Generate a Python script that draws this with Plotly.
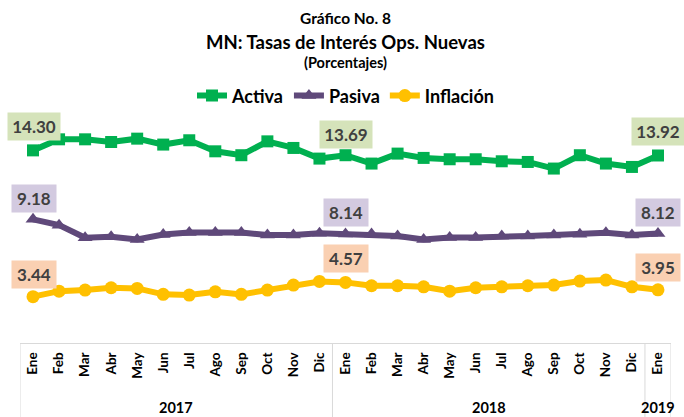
import plotly.graph_objects as go

# ---- data ----
months = ["Ene", "Feb", "Mar", "Abr", "May", "Jun", "Jul", "Ago", "Sep", "Oct", "Nov", "Dic",
          "Ene", "Feb", "Mar", "Abr", "May", "Jun", "Jul", "Ago", "Sep", "Oct", "Nov", "Dic",
          "Ene"]
years = ["2017"] * 12 + ["2018"] * 12 + ["2019"]

activa = [14.30, 15.12, 15.12, 14.92, 15.17, 14.73, 15.05, 14.23, 13.94, 14.97, 14.48, 13.69,
          13.94, 13.32, 14.06, 13.74, 13.64, 13.64, 13.49, 13.44, 12.95, 13.94, 13.32, 13.07,
          13.92]
pasiva = [9.18, 8.75, 7.81, 7.88, 7.69, 8.06, 8.21, 8.21, 8.21, 8.01, 8.01, 8.14,
          8.10, 8.10, 7.95, 7.69, 7.84, 7.84, 7.95, 7.95, 8.01, 8.08, 8.18, 8.01,
          8.12]
inflacion = [3.44, 3.85, 3.93, 4.10, 4.05, 3.61, 3.56, 3.80, 3.61, 3.93, 4.30, 4.57,
             4.50, 4.25, 4.25, 4.17, 3.85, 4.10, 4.17, 4.25, 4.30, 4.60, 4.67, 4.17,
             3.95]
labeled_idx = [0, 11, 24]

series = [
    ("Activa", activa, "#00B050", "square", 12, "#D5E3BA", 24),
    ("Pasiva", pasiva, "#5F497A", "triangle-up", 13, "#D3CAE0", 21),
    ("Inflación", inflacion, "#FFC000", "circle", 13, "#FAD0B2", 22.5),
]

FONT = "Lato"
idx = list(range(len(months)))
fig = go.Figure()
for name, vals, color, sym, msize, _, _ in series:
    fig.add_trace(go.Scatter(
        x=idx, y=vals, name=name, mode="lines+markers",
        line=dict(color=color, width=6),
        marker=dict(symbol=sym, size=msize, color=color),
        customdata=[f"{m} {y}" for m, y in zip(months, years)],
        hovertemplate="%{customdata}: %{y:.2f}<extra>" + name + "</extra>",
    ))

annotations = []
for name, vals, color, sym, msize, bg, yshift in series:
    for i in labeled_idx:
        annotations.append(dict(
            x=i, y=vals[i], xref="x", yref="y",
            text=f"{vals[i]:.2f}", showarrow=False,
            xshift=27 if i == 11 else (1 if i == 0 else 0), yshift=yshift,
            bgcolor=bg, width=50 if vals[i] >= 10 else 42, height=25,
            font=dict(family=FONT, size=17, color="#404040", weight="bold"),
        ))

titles = [("Gráfico No. 8", 1.419, 15.5), ("MN: Tasas de Interés Ops. Nuevas", 1.314, 18.5),
          ("(Porcentajes)", 1.227, 14.5)]
for t, yy, sz in titles:
    annotations.append(dict(text=t, x=0.5, y=yy, xref="paper", yref="paper",
                            showarrow=False, xanchor="center", yanchor="middle",
                            font=dict(family=FONT, size=sz, color="black", weight="bold")))

# year group labels and dividers
groups = []
for i, yv in enumerate(years):
    if not groups or groups[-1][0] != yv:
        groups.append([yv, i, i])
    else:
        groups[-1][2] = i
shapes = []
for yv, a, b in groups:
    annotations.append(dict(text=yv, x=(a + b) / 2, y=-0.2795, xref="x", yref="paper",
                            showarrow=False, xanchor="center", yanchor="middle",
                            font=dict(family=FONT, size=14.5, color="black", weight="bold")))
    shapes.append(dict(type="line", xref="x", yref="paper", x0=a - 0.5, x1=a - 0.5,
                       y0=0, y1=-0.33, line=dict(color="#D9D9D9", width=1)))
shapes.append(dict(type="line", xref="x", yref="paper", x0=len(months) - 0.5,
                   x1=len(months) - 0.5, y0=0, y1=-0.33, line=dict(color="#D9D9D9", width=1)))

fig.update_layout(
    width=684, height=417,
    margin=dict(l=20, r=13, t=114, b=74),
    paper_bgcolor="white", plot_bgcolor="white",
    showlegend=True,
    legend=dict(orientation="h", x=0.5, xanchor="center", y=1.079, yanchor="middle",
                font=dict(family=FONT, size=18, color="black", weight="bold"),
                itemwidth=30, tracegroupgap=0, bgcolor="rgba(0,0,0,0)"),
    annotations=annotations,
    shapes=shapes,
    xaxis=dict(range=[-0.5, len(months) - 0.5], tickmode="array", tickvals=idx, ticktext=months,
               tickangle=-90, ticklabelstandoff=3,
               tickfont=dict(family=FONT, size=13.5, color="black", weight="bold"),
               showline=True, linecolor="#D9D9D9", linewidth=1, ticks="",
               showgrid=False, zeroline=False, automargin=False, fixedrange=True),
    yaxis=dict(range=[0, 17], visible=False, showgrid=False, zeroline=False, fixedrange=True),
)

fig.write_html("out.html", config={"displayModeBar": False},
               post_script="document.body.style.margin='0';")
